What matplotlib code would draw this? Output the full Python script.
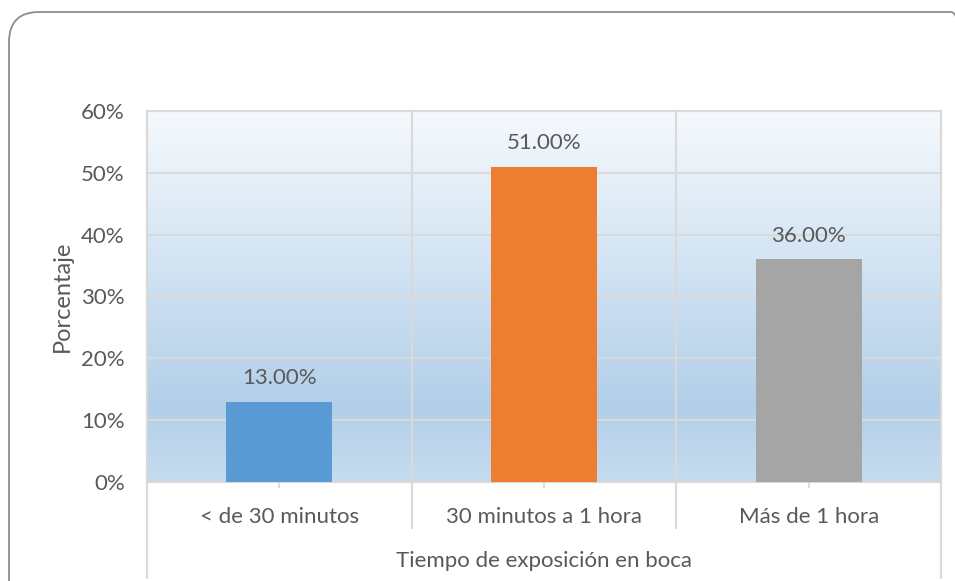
import matplotlib
matplotlib.use("Agg")
import matplotlib.pyplot as plt
import numpy as np
from matplotlib.colors import LinearSegmentedColormap
from matplotlib.patches import FancyBboxPatch
from matplotlib.ticker import FuncFormatter

categories = ['< de 30 minutos', '30 minutos a 1 hora', 'Más de 1 hora']
values = [13.0, 51.0, 36.0]
bar_colors = ['#5B9BD5', '#ED7D31', '#A5A5A5']
y_ticks = [0, 10, 20, 30, 40, 50, 60]

TXT = '#595959'
GRID = '#D9D9D9'
plt.rcParams['font.family'] = ['Lato', 'DejaVu Sans']

W, H = 955, 581
fig = plt.figure(figsize=(W / 100, H / 100), dpi=100)

# plot area in pixels
L, R, T, B = 147, 941, 111, 482
ax = fig.add_axes([L / W, 1 - B / H, (R - L) / W, (B - T) / H])

# gradient background of plot area
cmap = LinearSegmentedColormap.from_list(
    'bg', [(0.0, '#C6DCEF'), (0.2, '#B2CFE9'), (1.0, '#F5F9FD')])
grad = np.linspace(0, 1, 256).reshape(-1, 1)
ax.imshow(grad, cmap=cmap, aspect='auto', origin='lower',
          extent=[0, 1, 0, 1], transform=ax.transAxes, zorder=0)

x = np.arange(len(categories))
ax.bar(x, values, width=0.4, color=bar_colors, zorder=3)
for xi, v in zip(x, values):
    ax.annotate(f'{v:.2f}%', (xi, v), xytext=(0, 10), textcoords='offset points',
                ha='center', va='bottom', fontsize=16, color=TXT)

ax.set_xlim(-0.5, len(categories) - 0.5)
ax.set_ylim(0, 60)
ax.set_yticks(y_ticks)
ax.yaxis.set_major_formatter(FuncFormatter(lambda v, p: f'{v:.0f}%'))
ax.set_xticks(x)
ax.set_xticklabels(categories)
ax.tick_params(axis='y', length=0, pad=16, labelsize=16, labelcolor=TXT)
ax.tick_params(axis='x', length=4, width=1.2, color=GRID, pad=14,
               labelsize=16, labelcolor=TXT)

ax.grid(axis='y', color=GRID, linewidth=1.5, zorder=1)
for s in ax.spines.values():
    s.set_color(GRID)
    s.set_linewidth(1.5)

# category separators: inner ones down past labels, outer ones to the bottom
sep_short = -(528 - B) / (B - T)
sep_long = -(578 - B) / (B - T)
for i in range(len(categories) + 1):
    xs = i - 0.5
    y0 = sep_long if i in (0, len(categories)) else sep_short
    ax.plot([xs, xs], [y0, 1], color=GRID, linewidth=1.5,
            transform=ax.get_xaxis_transform(), clip_on=False, zorder=2)

ax.set_ylabel('Porcentaje', fontsize=17, color=TXT)
ax.yaxis.set_label_coords(-(L - 73) / (R - L), 0.5)
ax.set_xlabel('Tiempo de exposición en boca', fontsize=16, color=TXT)
ax.xaxis.set_label_coords(0.5, -(561 - B) / (B - T))
ax.xaxis.label.set_va('center')

# rounded chart border, cut off on the right and at the bottom
border = FancyBboxPatch((9, -40), 972, H - 12 + 40,
                        boxstyle='round,pad=0,rounding_size=30',
                        transform=None, facecolor='none',
                        edgecolor='#8C8C8C', linewidth=1.3)
fig.patches.append(border)

fig.savefig('out.png', dpi=100)
